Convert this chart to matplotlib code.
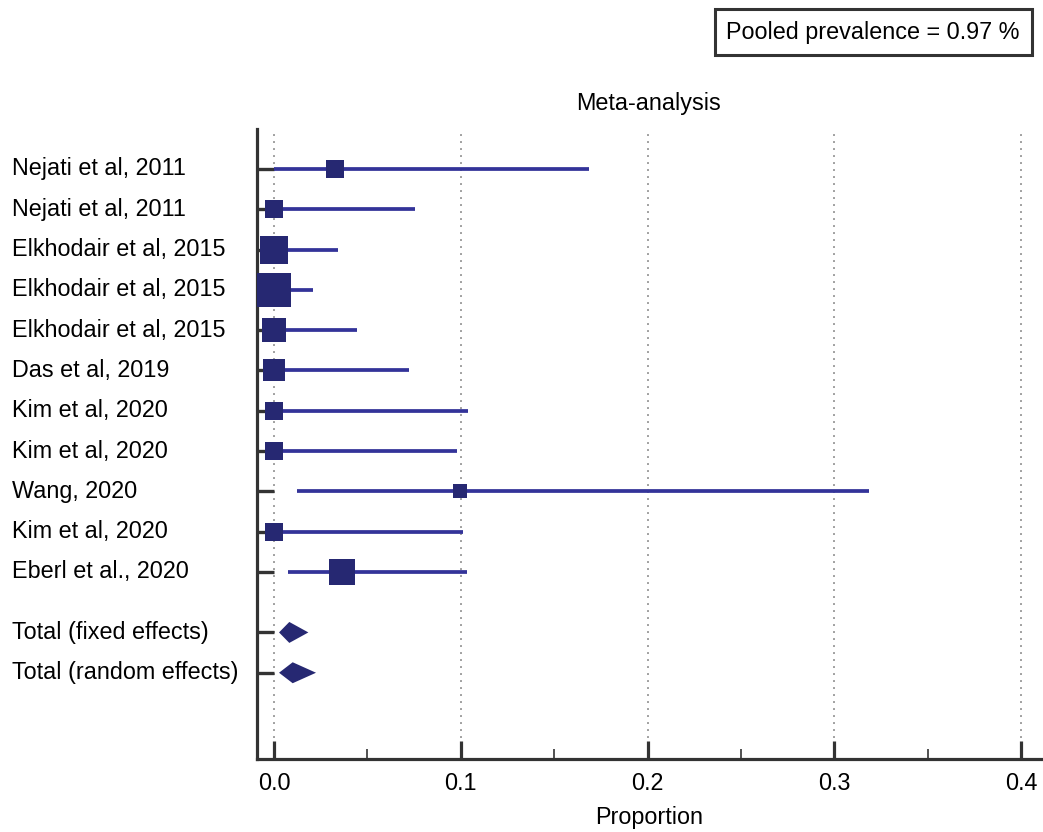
import matplotlib
matplotlib.use('Agg')
import matplotlib.pyplot as plt
import matplotlib.transforms as mtransforms
from matplotlib.patches import Rectangle

plt.rcParams['font.family'] = ['Liberation Sans', 'DejaVu Sans']

# Study data
studies = ['Nejati et al, 2011', 'Nejati et al, 2011', 'Elkhodair et al, 2015',
           'Elkhodair et al, 2015', 'Elkhodair et al, 2015', 'Das et al, 2019',
           'Kim et al, 2020', 'Kim et al, 2020', 'Wang, 2020', 'Kim et al, 2020',
           'Eberl et al., 2020']
estimate = [0.0326, 0.0, 0.0, 0.0, 0.0, 0.0, 0.0, 0.0, 0.0995, 0.0, 0.0364]
ci_low = [0.0, 0.0, 0.0, 0.0, 0.0, 0.0, 0.0, 0.0, 0.0121, 0.0, 0.0073]
ci_high = [0.1687, 0.0755, 0.0343, 0.0209, 0.0445, 0.0725, 0.1037, 0.0980, 0.3186, 0.1011, 0.1032]
weights = [6.0, 6.0, 14.6, 20.3, 10.7, 9.0, 6.0, 6.0, 3.6, 6.0, 11.6]

pooled_labels = ['Total (fixed effects)', 'Total (random effects)']
pooled_est = [0.0082, 0.0100]
pooled_low = [0.0027, 0.0027]
pooled_high = [0.0184, 0.0225]

line_col = '#333399'
box_col = '#262872'
axis_col = '#333333'
fs = 16.8

fig = plt.figure(figsize=(10.43, 8.32), dpi=100)
ax = fig.add_axes([257 / 1043, 1 - 759 / 832, (1041 - 257) / 1043, (759 - 129) / 832])

rows = list(range(len(studies)))
pooled_rows = [len(studies) + 0.5, len(studies) + 1.5]

# study lines and boxes
for y, est, lo, hi, w in zip(rows, estimate, ci_low, ci_high, weights):
    ax.plot([lo, hi], [y, y], color=line_col, lw=2.7, solid_capstyle='butt', zorder=3)
    ax.plot(est, y, marker='s', ms=5.3 * w ** 0.5, mfc=box_col, mec=box_col, mew=0, zorder=4)

# pooled diamonds
for y, est, lo, hi in zip(pooled_rows, pooled_est, pooled_low, pooled_high):
    ax.fill([lo, est, hi, est], [y, y - 0.26, y, y + 0.26], color=box_col, lw=0, zorder=4)

ax.set_xlim(-0.0091, 0.4107)
ax.set_ylim(14.64, -0.99)

ax.set_xticks([0.0, 0.1, 0.2, 0.3, 0.4])
ax.set_xticklabels(['0.0', '0.1', '0.2', '0.3', '0.4'], fontsize=fs)
ax.set_xticks([0.05, 0.15, 0.25, 0.35], minor=True)
ax.tick_params(axis='x', which='major', direction='in', length=13, width=2.3,
               color=axis_col, pad=9)
ax.tick_params(axis='x', which='minor', direction='in', length=7, width=1.2, color=axis_col)

ax.set_yticks(rows + pooled_rows)
ax.set_yticklabels([])
ax.tick_params(axis='y', which='major', direction='in', length=12, width=2.4, color=axis_col)

for x in [0.0, 0.1, 0.2, 0.3, 0.4]:
    ax.axvline(x, color='#a0a0a0', lw=1.4, ls=(0, (1, 2.6)), zorder=1)

for side in ['top', 'right']:
    ax.spines[side].set_visible(False)
for side in ['left', 'bottom']:
    ax.spines[side].set_linewidth(2.3)
    ax.spines[side].set_color(axis_col)

# row labels at the left edge of the figure
trans = mtransforms.blended_transform_factory(fig.transFigure, ax.transData)
for y, lab in zip(rows + pooled_rows, studies + pooled_labels):
    ax.text(12 / 1043, y, lab, transform=trans, ha='left', va='center', fontsize=fs)

ax.set_title('Meta-analysis', fontsize=fs, pad=14)
ax.set_xlabel('Proportion', fontsize=fs, labelpad=8)

# pooled prevalence box
fig.patches.append(Rectangle((715 / 1043, 1 - 55 / 832), (1032 - 715) / 1043, 46 / 832,
                             transform=fig.transFigure, fill=False, ec=axis_col, lw=2.2))
fig.text(873 / 1043, 1 - 32 / 832, 'Pooled prevalence = 0.97 %', ha='center', va='center',
         fontsize=fs)

fig.savefig('out.png', dpi=100)
